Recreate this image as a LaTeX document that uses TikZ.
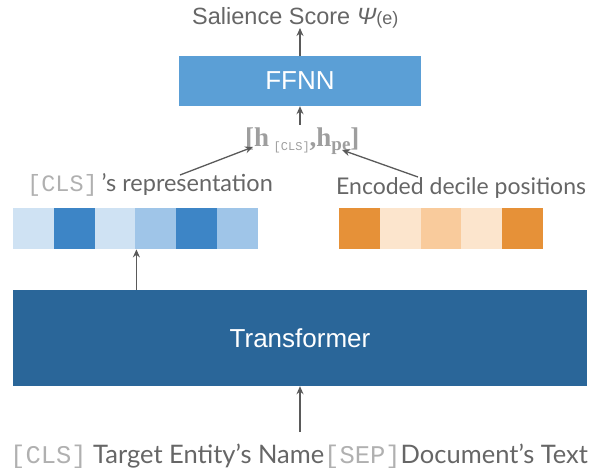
\documentclass[tikz,border=0pt]{standalone}
\usepackage{fontspec}
\setmainfont{Liberation Sans}
\newfontfamily\latofont{Lato}
\newfontfamily\serifb{Liberation Serif}
\setmonofont{Liberation Mono}
\usetikzlibrary{arrows.meta,calc}
\definecolor{txtgray}{HTML}{666666}
\definecolor{monogray}{HTML}{B0B0B0}
\definecolor{arrgray}{HTML}{5A5A5A}
\definecolor{ffnnblue}{HTML}{5B9FD6}
\definecolor{trblue}{HTML}{2A6699}
\definecolor{bl1}{HTML}{CFE2F3}
\definecolor{bl2}{HTML}{3D85C6}
\definecolor{bl3}{HTML}{9FC5E8}
\definecolor{or1}{HTML}{E69138}
\definecolor{or2}{HTML}{FCE5CD}
\definecolor{or3}{HTML}{F9CB9C}
\tikzset{
  arr/.style={draw=arrgray, line width=1.3pt, -{Stealth[length=8pt,width=7pt]}},
  bigbox/.style={rectangle, inner sep=0pt, text=white, font=\fontsize{26}{30}\selectfont},
  cell/.style={rectangle, inner sep=0pt, minimum width=41pt, minimum height=41pt},
  lbl/.style={inner sep=1pt, text=txtgray, font=\latofont\fontsize{23.5}{26}\selectfont},
}
\begin{document}
\begin{tikzpicture}[x=1pt,y=-1pt]
\useasboundingbox (0,0) rectangle (600,468);
% boxes
\node[bigbox, fill=ffnnblue, minimum width=242pt, minimum height=50pt] (ffnn) at (300,81) {FFNN};
\node[bigbox, fill=trblue, minimum width=574pt, minimum height=96pt] (tr) at (300,338) {Transformer};
% output text
\node[inner sep=1pt, text=txtgray, font=\fontsize{23.5}{26}\selectfont, anchor=base west] (score) at (191,25)
  {Salience Score {\itshape Ψ}{\fontsize{18}{18}\selectfont(e)}};
% concatenated vector
\node[inner sep=1pt, text=monogray!90!black, anchor=base west] (hvec) at (244,147)
  {\serifb\bfseries\fontsize{27}{28}\selectfont [h\,\raisebox{-4pt}{\ttfamily\mdseries\fontsize{12}{12}\selectfont [CLS]},h\raisebox{-4pt}{\fontsize{19}{19}\selectfont pe}]};
% labels
\node[lbl, anchor=base west] (clslab) at (26,192)
  {{\ttfamily\color{monogray}[CLS]}\,’s representation};
\node[lbl, anchor=base west, font=\latofont\fontsize{23}{26}\selectfont] (pelab) at (335,195) {Encoded decile positions};
% blue cells
\node[cell, fill=bl1, anchor=north west] (c1) at (13,208) {};
\node[cell, fill=bl2, anchor=north west] (c2) at (54,208) {};
\node[cell, fill=bl1, anchor=north west] (c3) at (95,208) {};
\node[cell, fill=bl3, anchor=north west] (c4) at (135,208) {};
\node[cell, fill=bl2, anchor=north west] (c5) at (176,208) {};
\node[cell, fill=bl3, anchor=north west] (c6) at (217,208) {};
% orange cells
\node[cell, fill=or1, anchor=north west] (o1) at (339,208) {};
\node[cell, fill=or2, anchor=north west] (o2) at (380,208) {};
\node[cell, fill=or3, anchor=north west] (o3) at (421,208) {};
\node[cell, fill=or2, anchor=north west] (o4) at (461,208) {};
\node[cell, fill=or1, anchor=north west] (o5) at (502,208) {};
% input text
\node[inner sep=1pt, text=txtgray, font=\latofont\fontsize{25.5}{28}\selectfont, anchor=base west] (inp) at (9,463)
  {{\ttfamily\color{monogray}[CLS]} Target Entity’s Name{\ttfamily\color{monogray}[SEP]}Document’s Text};
% connectors
\coordinate (lstart) at (180,175);
\coordinate (lend) at (253,147);
\coordinate (rstart) at (418,177);
\coordinate (rend) at (342,150);
\coordinate (inptop) at (300,432);
\coordinate (hbot) at (300,125);
\coordinate (stop) at (300,28);
\draw[arr] (lstart) -- (lend);
\draw[arr] (rstart) -- (rend);
\draw[arr] (hbot) -- (ffnn.south);
\draw[arr] (ffnn.north) -- (stop);
\draw[arr] (c3.south east |- tr.north) -- (c3.south east);
\draw[arr] (inptop) -- (tr.south);
\end{tikzpicture}
\end{document}
